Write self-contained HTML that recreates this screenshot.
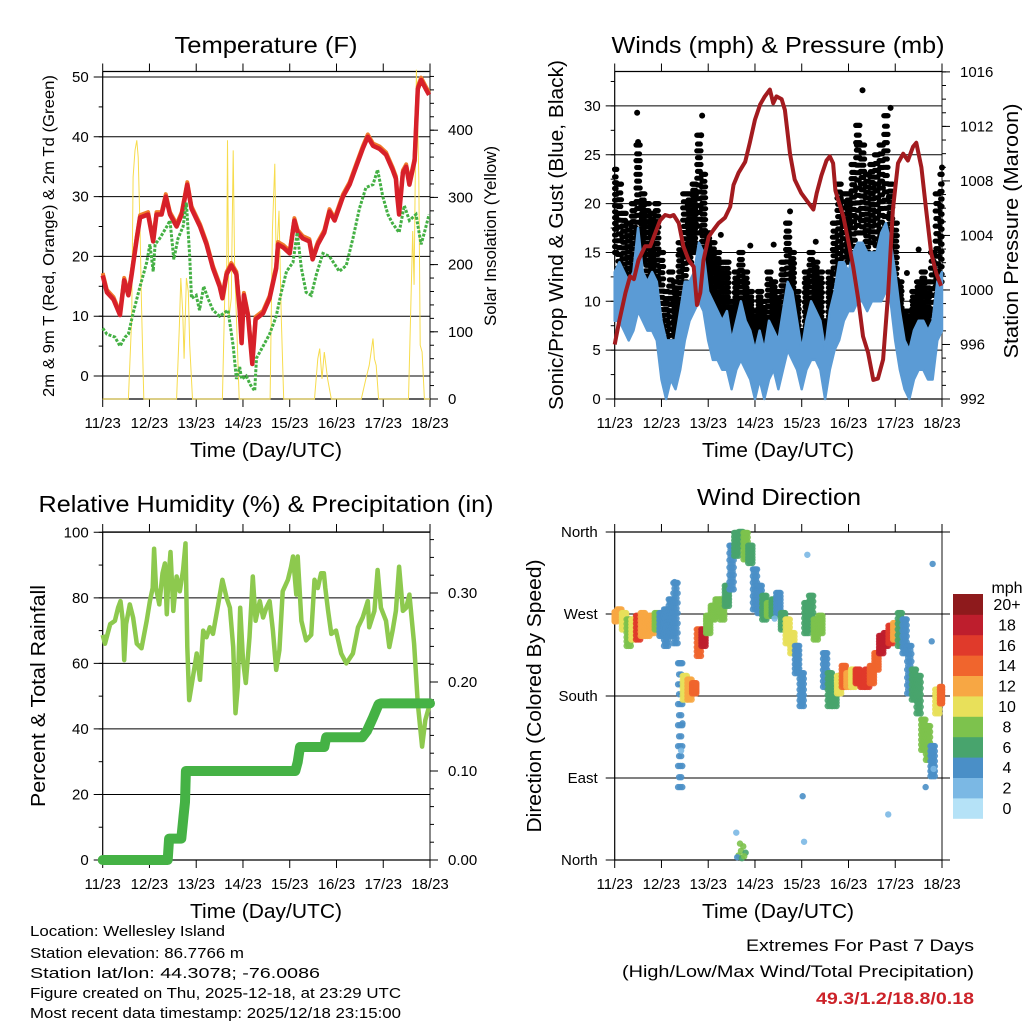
<!DOCTYPE html>
<html><head><meta charset="utf-8"><style>
html,body{margin:0;padding:0;background:#fff;}
svg{display:block;font-family:"Liberation Sans",Arial,sans-serif;}
</style></head><body>
<svg id="c" width="1024" height="1024" viewBox="0 0 1024 1024" xmlns="http://www.w3.org/2000/svg">
<rect width="1024" height="1024" fill="#fff"/>
<text x="266" y="53" font-size="23" text-anchor="middle" textLength="183" lengthAdjust="spacingAndGlyphs">Temperature (F)</text>
<text x="778" y="53" font-size="23" text-anchor="middle" textLength="333" lengthAdjust="spacingAndGlyphs">Winds (mph) &amp; Pressure (mb)</text>
<text x="266" y="512" font-size="23" text-anchor="middle" textLength="455" lengthAdjust="spacingAndGlyphs">Relative Humidity (%) &amp; Precipitation (in)</text>
<text x="779" y="505" font-size="23" text-anchor="middle" textLength="164" lengthAdjust="spacingAndGlyphs">Wind Direction</text>

<text transform="translate(54,236) rotate(-90)" font-size="16" text-anchor="middle" textLength="322" lengthAdjust="spacingAndGlyphs">2m &amp; 9m T (Red, Orange) &amp; 2m Td (Green)</text>
<text transform="translate(496,236) rotate(-90)" font-size="17" text-anchor="middle" textLength="180" lengthAdjust="spacingAndGlyphs">Solar Insolation (Yellow)</text>
<text transform="translate(563,235) rotate(-90)" font-size="20" text-anchor="middle" textLength="350" lengthAdjust="spacingAndGlyphs">Sonic/Prop Wind &amp; Gust (Blue, Black)</text>
<text transform="translate(1018,231) rotate(-90)" font-size="20" text-anchor="middle" textLength="255" lengthAdjust="spacingAndGlyphs">Station Pressure (Maroon)</text>
<text transform="translate(45,696) rotate(-90)" font-size="20" text-anchor="middle" textLength="222" lengthAdjust="spacingAndGlyphs">Percent &amp; Total Rainfall</text>
<text transform="translate(541,696) rotate(-90)" font-size="20" text-anchor="middle" textLength="273" lengthAdjust="spacingAndGlyphs">Direction (Colored By Speed)</text>

<text x="266" y="457" font-size="20" text-anchor="middle" textLength="152" lengthAdjust="spacingAndGlyphs">Time (Day/UTC)</text>
<text x="778" y="457" font-size="20" text-anchor="middle" textLength="152" lengthAdjust="spacingAndGlyphs">Time (Day/UTC)</text>
<text x="266" y="918" font-size="20" text-anchor="middle" textLength="152" lengthAdjust="spacingAndGlyphs">Time (Day/UTC)</text>
<text x="778" y="918" font-size="20" text-anchor="middle" textLength="152" lengthAdjust="spacingAndGlyphs">Time (Day/UTC)</text>

<g font-size="15">
<text x="30" y="936" textLength="195" lengthAdjust="spacingAndGlyphs">Location: Wellesley Island</text>
<text x="30" y="958" textLength="214" lengthAdjust="spacingAndGlyphs">Station elevation: 86.7766 m</text>
<text x="30" y="978" textLength="290" lengthAdjust="spacingAndGlyphs">Station lat/lon: 44.3078; -76.0086</text>
<text x="30" y="998" textLength="371" lengthAdjust="spacingAndGlyphs">Figure created on Thu, 2025-12-18, at 23:29 UTC</text>
<text x="30" y="1018" textLength="371" lengthAdjust="spacingAndGlyphs">Most recent data timestamp: 2025/12/18 23:15:00</text>
</g>
<text x="974" y="951" font-size="17" text-anchor="end" textLength="228" lengthAdjust="spacingAndGlyphs">Extremes For Past 7 Days</text>
<text x="974" y="977" font-size="17" text-anchor="end" textLength="352" lengthAdjust="spacingAndGlyphs">(High/Low/Max Wind/Total Precipitation)</text>
<text x="974" y="1004" font-size="17" font-weight="bold" fill="#cc2229" text-anchor="end" textLength="158" lengthAdjust="spacingAndGlyphs">49.3/1.2/18.8/0.18</text>
<g id="layer"></g>
</svg>
<script>
// ---------- data ----------
const dayTicks = ["11/23","12/23","13/23","14/23","15/23","16/23","17/23","18/23"];
const tempTicks = [0,10,20,30,40,50];
const solarTicks = [0,100,200,300,400];
const windTicks = [0,5,10,15,20,25,30];
const presTicks = [992,996,1000,1004,1008,1012,1016];
const rhTicks = [0,20,40,60,80,100];
const rainTicks = [0.00,0.10,0.20,0.30];
const dirNames = ["North","East","South","West","North"];
const dirTicks = [0,90,180,270,360];
const speedLabels = ["0","2","4","6","8","10","12","14","16","18","20+"];
const speedColors = ["#b5e2f7","#7bb8e4","#4a8fc7","#48a46d","#7dc24d","#e8e05a","#f7a744","#f0652d","#e03a2b","#be1e2d","#8e1a1c"];

const tempT = [0,0.09,0.23,0.37,0.46,0.55,0.62,0.73,0.8,0.97,1.08,1.15,1.26,1.35,1.44,1.58,1.69,1.81,1.9,2.08,2.22,2.36,2.5,2.56,2.65,2.75,2.86,2.93,2.97,3.02,3.11,3.2,3.27,3.43,3.57,3.71,3.75,3.86,4.0,4.1,4.17,4.28,4.42,4.49,4.6,4.74,4.85,4.96,5.14,5.28,5.42,5.56,5.67,5.78,5.92,6.06,6.2,6.27,6.3,6.34,6.42,6.49,6.56,6.67,6.74,6.81,6.91,6.98];
const tempV = [16.8,14,12.8,10.2,16,13.5,17,23,26.5,27,22.5,27,27,30,27,25,27,32,28,25,22,18,15,13,17,18.5,17,11,5.5,13.5,10,2,9.5,10.5,13,18,22,21.5,20.5,26,24,23,22.5,19.5,22,24,27.5,26,30,32,35,38,40,38.5,38,37,34.5,33,30,27,34,35,32,36,48,49.5,48,47];
const dewT = [0,0.09,0.26,0.37,0.48,0.55,0.65,0.8,0.94,1.01,1.08,1.12,1.22,1.37,1.44,1.52,1.61,1.72,1.79,1.86,1.9,2.0,2.07,2.16,2.25,2.36,2.5,2.68,2.79,2.86,2.93,2.97,3.07,3.16,3.25,3.29,3.43,3.57,3.71,3.82,3.93,4.07,4.16,4.25,4.35,4.46,4.57,4.71,4.85,5.06,5.21,5.35,5.49,5.63,5.78,5.88,5.99,6.1,6.2,6.34,6.45,6.56,6.7,6.81,6.88,6.98];
const dewV = [8,7,6.5,5,6.5,7,10.5,15,19,22,17.5,22,23,25,26,19.5,23,25,29,20,13,13.5,11,15,13,11,10,11,5,-0.5,1.5,-0.5,0,-1.5,-2.5,3,5,7,10,14,17.5,19,24,18,14,13.5,17,20.5,20,17.5,18.5,23,28,31.5,32,34.5,30,27,25.5,24,28.5,26,27,22,24,27];
const solarT = [0,0.55,0.62,0.65,0.69,0.73,0.76,0.8,0.83,0.88,1.58,1.64,1.67,1.71,1.74,1.79,1.83,1.86,1.92,2.56,2.61,2.65,2.67,2.7,2.75,2.79,2.82,2.87,2.92,3.58,3.63,3.68,3.71,3.77,3.82,3.87,4.53,4.6,4.64,4.69,4.74,4.81,4.89,5.53,5.63,5.7,5.78,5.81,5.85,5.9,6.54,6.63,6.66,6.71,6.74,6.76,6.79,6.83,6.88,7.0];
const solarV = [0,0,120,330,370,385,360,250,140,0,0,110,180,130,60,180,160,80,0,0,150,170,385,120,150,370,200,100,0,0,250,350,200,280,120,0,0,60,75,30,70,30,0,0,30,50,90,60,50,0,0,250,170,490,400,330,80,70,0,0];

const windT = [0,0.1,0.2,0.3,0.4,0.5,0.6,0.7,0.8,0.9,1.0,1.1,1.2,1.3,1.4,1.5,1.6,1.7,1.8,1.9,2.0,2.1,2.2,2.3,2.4,2.5,2.6,2.7,2.8,2.9,3.0,3.1,3.2,3.3,3.4,3.5,3.6,3.7,3.8,3.9,4.0,4.1,4.2,4.3,4.4,4.5,4.6,4.7,4.8,4.9,5.0,5.1,5.2,5.3,5.4,5.5,5.6,5.7,5.8,5.9,6.0,6.1,6.2,6.3,6.4,6.5,6.6,6.7,6.8,6.9,7.0];
const windLo = [8,8,7,6,7,9,8,7,7,6,2,0,2,1,3,6,8,9,10,9,6,4,4,3,3,1,3,4,3,2,0,2,0,2,3,1,3,5,4,3,1,3,4,4,3,0,3,5,6,8,9,9,10,10,9,10,10,10,11,10,6,3,1,0,2,3,3,2,2,6,7];
const windHi = [13,14,13,12,13,17.5,13,12,13,12,8,6,6,6,9,12,12,13,16,15,11,10,9,8,9,6,8,10,8,7,5,7,5,8,7,6,9,12,11,8,5,8,10,9,8,5,9,11,14,14,13,15,16,16,15,15,15,17,18,16,13,9,6,5,7,8,8,7,8,12,13];
const gustLo = [15,12,11,10,12,16,14,12,12,12,6,3,4,5,8,12,14,15,17,15,11,9,8,7,7,4,6,7,6,5,3,5,3,5,6,4,6,9,8,5,3,6,7,8,6,4,6,9,13,12,14,15,17,17,15,16,15,16,17,14,10,6,4,3,5,6,6,5,5,10,12];
const gustHi = [23.5,22,19,18,20,26,21,20,19,20,15,11,13,12,16,21,21,22,27,23,17,16,15,14,14,10,13,15,13,11,9,11,10,13,12,11,14,18,15,11,7,13,15,14,13,8,13,18,22,21,21,24,28,26,23,24,25,26,29,22,18,12,9,9,11,12,13,12,15,21,23];
const gustPeakT = [0.48,0.5,1.87,1.85,2.27,2.9,3.4,3.75,4.3,5.3,5.18,5.9,6.25,6.5,7.0];
const gustPeakV = [29.3,26.3,29,27,16.8,15.7,15.8,19.2,16.1,31.6,26,29.8,12.9,15.3,23.7];

const presT = [0,0.09,0.23,0.33,0.41,0.51,0.65,0.76,0.87,0.97,1.08,1.19,1.26,1.37,1.47,1.58,1.69,1.76,1.83,1.9,2.01,2.11,2.22,2.36,2.47,2.54,2.65,2.79,2.89,3.0,3.11,3.21,3.32,3.39,3.46,3.57,3.64,3.75,3.85,3.99,4.14,4.25,4.32,4.42,4.53,4.6,4.67,4.72,4.78,4.89,4.99,5.1,5.21,5.31,5.42,5.53,5.63,5.74,5.85,5.95,6.06,6.17,6.27,6.38,6.45,6.56,6.66,6.77,6.88,6.98];
const presV = [996,997.6,999.8,1001,1000.8,1002.2,1003.2,1003.2,1004.2,1005.1,1005.5,1005.4,1005.5,1004.9,1003.2,1002.2,1001.7,998.9,999.8,1002.2,1003.9,1004.4,1004.9,1005.3,1006.1,1007.7,1008.6,1009.4,1010.8,1012.5,1013.6,1014.2,1014.7,1013.7,1014.2,1014,1013.2,1010,1008.1,1007.1,1006.4,1005.9,1007.1,1008.4,1009.5,1009.8,1009.3,1007.3,1006.6,1005.4,1003.7,1001.7,999.3,996.6,995.4,993.4,993.5,994.9,999.8,1005.9,1009.3,1010,1009.5,1010.5,1010.8,1009,1005.9,1002.7,1001.2,1000.3];

const rhT = [0,0.05,0.16,0.26,0.33,0.38,0.43,0.46,0.5,0.58,0.65,0.73,0.83,0.94,1.01,1.07,1.1,1.14,1.21,1.28,1.33,1.37,1.4,1.45,1.51,1.58,1.65,1.72,1.77,1.81,1.85,1.92,2.01,2.08,2.15,2.22,2.29,2.36,2.47,2.56,2.65,2.72,2.79,2.84,2.89,2.94,3.0,3.06,3.14,3.21,3.27,3.36,3.43,3.5,3.57,3.64,3.71,3.78,3.85,3.96,4.03,4.07,4.14,4.17,4.25,4.35,4.46,4.53,4.6,4.67,4.73,4.76,4.82,4.89,4.99,5.1,5.21,5.35,5.46,5.56,5.67,5.7,5.81,5.88,5.95,6.06,6.13,6.2,6.27,6.34,6.42,6.49,6.56,6.66,6.74,6.83,6.9,6.98];
const rhV = [68.7,66,72,73,77,79,73,61,72,78,74,66,64.6,73,79,83,95,83,78,87.5,90.5,75,85,94,76,86.5,82,88.5,96.6,65,48.8,55,63,55,70,68,71,69,78,85.5,80,77,65,44.8,53,77,61,54,68,86.5,73,79,74,77,79,70,58,64,82,85.5,89.5,92.6,81,92.6,73,67,68.7,85.5,83,87.5,87.5,83,76,69,70,63,60,63,71,74,79,71,76,88.5,77,73,65,70,76,89.5,76,77,81,66,47.8,34.6,42.7,46.8];
const rainT = [0,1.39,1.42,1.68,1.73,1.76,1.78,4.12,4.17,4.22,4.74,4.78,5.55,5.65,5.78,5.9,5.95,7.0];
const rainV = [0,0,0.024,0.024,0.05,0.065,0.1,0.1,0.11,0.127,0.127,0.138,0.138,0.145,0.16,0.175,0.176,0.176];

const dirT = windT;
const dirLo = [262,264,253,235,242,242,246,246,249,253,246,235,246,238,80,176,176,183,224,235,249,264,268,264,279,297,334,345,330,326,275,271,264,268,268,271,253,238,227,205,169,249,253,242,249,190,169,169,183,190,190,190,194,190,190,194,209,227,235,238,242,235,227,183,176,161,121,110,92,161,172];
const dirHi = [272,275,271,264,264,268,271,268,268,271,271,275,286,304,216,202,198,194,253,253,268,279,286,286,301,345,359,360,359,345,319,301,290,282,286,293,271,264,249,235,205,282,290,264,268,227,205,190,202,213,205,209,209,205,209,213,227,246,249,257,260,271,264,235,209,202,154,147,125,187,190];
const dirSpd = [11,12,10,7,9,15,12,12,11,8,4,4,4,4,3,10,12,13,14,17,7,8,8,8,6,3,5,6,7,5,3,4,5,7,5,4,6,9,10,4,3,5,6,8,8,4,5,6,10,13,12,10,15,16,15,14,13,17,17,15,12,6,4,4,5,5,7,7,4,10,14];
const dirExtraT = [2.65,2.7,2.75,2.8,2.62,2.6,1.28,3.42,4.12,6.8,6.82,5.85,6.65,4.05,1.45,1.42,4.02,6.78,2.72,2.68,2.77];
const dirExtraD = [5,10,15,8,3,30,305,265,335,325,100,50,80,20,150,120,70,240,2,18,4];
const dirExtraS = [7,8,7,6,4,2,3,1,1,3,2,1,3,2,3,2,3,3,6,8,7];

// ---------- helpers ----------
const NS = "http://www.w3.org/2000/svg";
const layer = document.getElementById('layer');
function mk(tag, attrs, parent){ const e=document.createElementNS(NS,tag); for(const k in attrs) e.setAttribute(k,attrs[k]); (parent||layer).appendChild(e); return e; }
function txt(x,y,s,size,anchor,parent){ const e=mk('text',{x:x,y:y,'font-size':size,'text-anchor':anchor},parent); e.textContent=s; return e; }

const XL=[102.7,430], XR=[614.7,942];
function xs(range){ return d => range[0] + d*(range[1]-range[0])/7; }
const xL = xs(XL), xR = xs(XR);
const tempY = v => 376 - v*5.98;
const solarY = w => 399 - w*0.672;
const spdY = v => 399 - v*9.77;
const presY = p => 399 - (p-992)*13.63;
const rhY = v => 860 - v*3.277;
const rainY = r => 860 - r*890;
const dirY = d => 860 - d*0.9111;

function pathFrom(T,V,fx,fy){ return T.map((t,i)=>(i?'L':'M')+fx(t).toFixed(1)+','+fy(V[i]).toFixed(1)).join(''); }

function frame(X, top, bot, name){
  const g = mk('g',{});  
  dayTicks.forEach((lab,i)=>{
    const x = X[0] + i*(X[1]-X[0])/7;
    mk('line',{x1:x,y1:top,x2:x,y2:top-8,stroke:'#000','stroke-width':1},g);
    mk('line',{x1:x,y1:bot,x2:x,y2:bot+8,stroke:'#000','stroke-width':1},g);
    const t=txt(x,bot+29,lab,15,'middle',g);
    
    
  });
  mk('line',{x1:X[0],y1:top,x2:X[1],y2:top,stroke:'#000','stroke-width':1.2},g);
  mk('line',{x1:X[0],y1:bot,x2:X[1],y2:bot,stroke:'#000','stroke-width':1.2},g);
  mk('line',{x1:X[0],y1:top,x2:X[0],y2:bot,stroke:'#000','stroke-width':1.2},g);
  mk('line',{x1:X[1],y1:top,x2:X[1],y2:bot,stroke:'#555','stroke-width':1.4},g);
  return g;
}
function leftAxis(g,X,ticks,fy,labels,minorStep,lo,hi,fmt){
  ticks.forEach((v,i)=>{
    const y=fy(v);
    mk('line',{x1:X[0]-9,y1:y,x2:X[1],y2:y,stroke:'#000','stroke-width':1},g);
    const t=txt(X[0]-14,y+5,labels?labels[i]:(fmt?fmt(v):String(v)),15,'end',g);
    
    
  });
  if(minorStep){ for(let v=lo; v<=hi+1e-9; v+=minorStep){ const y=fy(v); mk('line',{x1:X[0]-4,y1:y,x2:X[0],y2:y,stroke:'#000','stroke-width':1},g);} }
}
function rightAxis(g,X,ticks,fy,fmt,minorStep,lo,hi){
  ticks.forEach(v=>{
    const y=fy(v);
    mk('line',{x1:X[1],y1:y,x2:X[1]+8,y2:y,stroke:'#000','stroke-width':1},g);
    const t=txt(X[1]+18,y+5,fmt(v),15,'start',g);
    
    
  });
  if(minorStep){ for(let v=lo; v<=hi+1e-9; v+=minorStep){ const y=fy(v); mk('line',{x1:X[1],y1:y,x2:X[1]+4,y2:y,stroke:'#000','stroke-width':1},g);} }
}

// ---------- Temperature panel ----------
let g = frame(XL,71.5,399,'temperature');
leftAxis(g,XL,tempTicks,tempY,null,5,-0,50);
rightAxis(g,XL,solarTicks,solarY,v=>String(v),20,0,480);
let p;
p = mk('path',{d:pathFrom(solarT,solarV,xL,solarY),fill:'none',stroke:'#f7dc4d','stroke-width':1});


p = mk('path',{d:pathFrom(tempT,tempV.map(v=>v+0.4),xL,tempY),fill:'none',stroke:'#f07a2a','stroke-width':4,'stroke-linejoin':'round'});


p = mk('path',{d:pathFrom(tempT,tempV,xL,tempY),fill:'none',stroke:'#d7202a','stroke-width':4.5,'stroke-linejoin':'round'});


p = mk('path',{d:pathFrom(dewT,dewV,xL,tempY),fill:'none',stroke:'#44b044','stroke-width':3,'stroke-dasharray':'3 1.5'});



// ---------- Winds panel ----------
g = frame(XR,71.5,399,'winds');
leftAxis(g,XR,windTicks,spdY,null,2.5,0,32.5);
mk('line',{x1:XR[0],y1:71.5,x2:XR[1],y2:71.5,stroke:'#000','stroke-width':1},g);
rightAxis(g,XR,presTicks,presY,v=>String(v),1,992,1016);
const band = windT.map((t,i)=>xR(t).toFixed(1)+','+spdY(windHi[i]).toFixed(1)).concat(windT.slice().reverse().map((t,j)=>{const i=windT.length-1-j; return xR(t).toFixed(1)+','+spdY(windLo[i]).toFixed(1);}));
const gg = mk('g',{fill:'#000'});


const gOff = [-0.045,-0.03,-0.015,0,0.015,0.03,0.045];
const gFrac = [0,0.14,0.28,0.42,0.56,0.7,0.84,1];
windT.forEach((t,i)=>{
  gOff.forEach((dt,k)=>{
    gFrac.forEach((f,m)=>{
      const ff = Math.min(1, f + (k%2)*0.07);
      const v = gustLo[i] + ff*(gustHi[i]-gustLo[i]);
      const tt=Math.max(0,Math.min(7,t+dt));
      mk('circle',{cx:xR(tt).toFixed(1),cy:spdY(v).toFixed(1),r:2.6},gg);
    });
  });
});
gustPeakT.forEach((t,i)=>{ mk('circle',{cx:xR(t),cy:spdY(gustPeakV[i]),r:3},gg); });
p = mk('polygon',{points:band.join(' '),fill:'#5b9bd5',stroke:'#5b9bd5','stroke-width':2.5,'stroke-linejoin':'round'});


p = mk('path',{d:pathFrom(presT,presV,xR,presY),fill:'none',stroke:'#a31b1f','stroke-width':4,'stroke-linejoin':'round'});



// ---------- Humidity panel ----------
g = frame(XL,532,860,'humidity');
leftAxis(g,XL,rhTicks,rhY,null,10,0,100);
rightAxis(g,XL,rainTicks,rainY,v=>v.toFixed(2),0.02,0,0.36);
p = mk('path',{d:pathFrom(rhT,rhV,xL,rhY),fill:'none',stroke:'#8dc94e','stroke-width':4.5,'stroke-linejoin':'round'});


p = mk('path',{d:pathFrom(rainT,rainV,xL,rainY),fill:'none',stroke:'#45b245','stroke-width':10,'stroke-linejoin':'round','stroke-linecap':'round'});



// ---------- Wind direction panel ----------
g = frame(XR,532,860,'direction');
dirTicks.forEach((d,i)=>{
  const y=dirY(d);
  mk('line',{x1:XR[0]-9,y1:y,x2:XR[1]+8,y2:y,stroke:'#000','stroke-width':1},g);
  const t=txt(XR[0]-17,y+5,dirNames[i],15,'end',g);
  
  
});
function spdColor(s){ return speedColors[Math.max(0,Math.min(10,Math.round(s/2)))]; }
const dg = mk('g',{'fill-opacity':0.9});


const dOff = [-0.045,-0.022,0,0.022,0.045];
const dFrac = [0,0.17,0.33,0.5,0.67,0.83,1];
dirT.forEach((t,i)=>{
  dOff.forEach((dt,k)=>{
    dFrac.forEach(f=>{
      const ff = Math.min(1, f + (k%2)*0.08);
      const d = dirLo[i] + ff*(dirHi[i]-dirLo[i]);
      const tt=Math.max(0,Math.min(7,t+dt));
      mk('circle',{cx:xR(tt).toFixed(1),cy:dirY(d).toFixed(1),r:3.2,fill:spdColor(dirSpd[i])},dg);
    });
  });
});
dirExtraT.forEach((t,i)=>{ mk('circle',{cx:xR(t),cy:dirY(dirExtraD[i]),r:3.2,fill:spdColor(dirExtraS[i])},dg); });

// colorbar legend
const lg = mk('g',{});


const lt = txt(1007,593,'mph',16,'middle',lg);


speedLabels.forEach((lab,i)=>{
  const k = 10-i;
  const y = 594 + k*20.4;
  const r = mk('rect',{x:953,y:y,width:30,height:20.8,fill:speedColors[i]},lg);
  
  
  const t = txt(1007,y+16,lab,16,'middle',lg);
  
  
});
</script>
</body></html>
